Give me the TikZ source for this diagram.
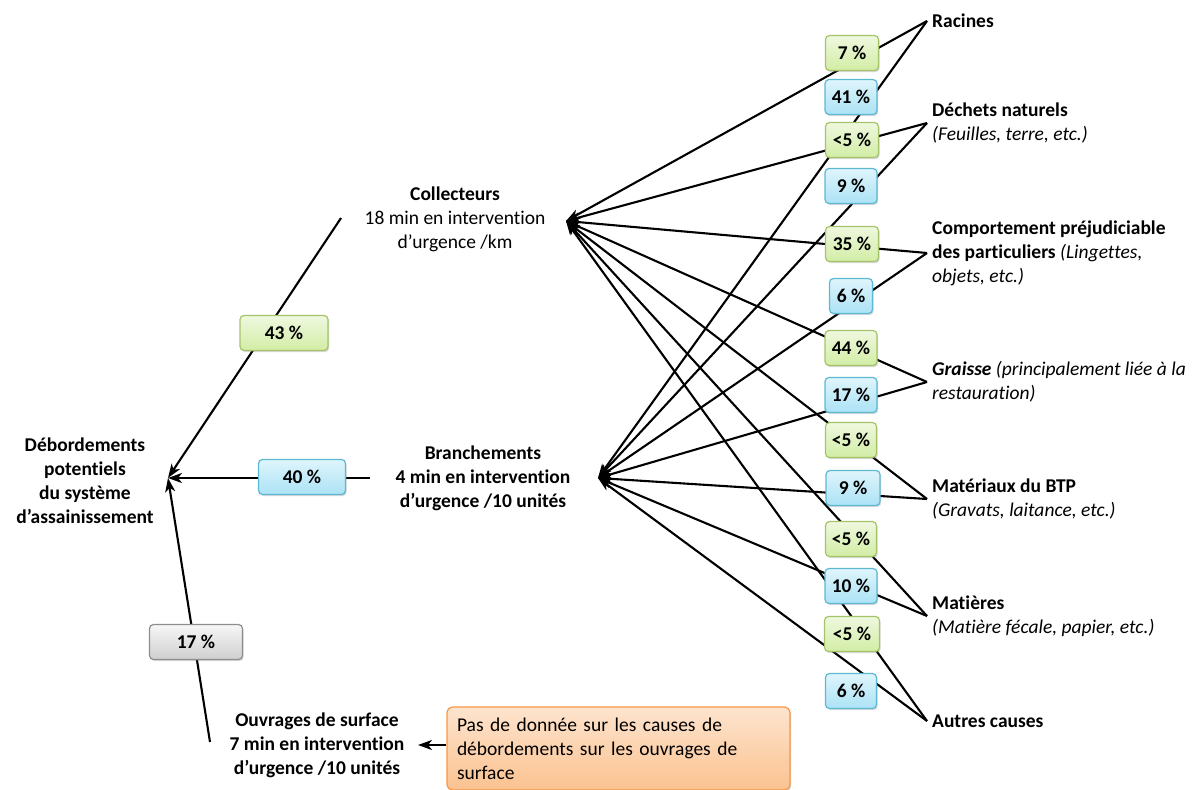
\documentclass[tikz,border=0pt]{standalone}
\usepackage{fontspec}
\setmainfont{Carlito}[Ligatures=NoCommon]
\usetikzlibrary{arrows.meta,shadows}
\definecolor{gBord}{HTML}{A5C46A}
\definecolor{gTop}{HTML}{EFF8DF}
\definecolor{gBot}{HTML}{D2EDA5}
\definecolor{bBord}{HTML}{5DB8D2}
\definecolor{bTop}{HTML}{DFF5FC}
\definecolor{bBot}{HTML}{ABE2F5}
\definecolor{kBord}{HTML}{8C8C8C}
\definecolor{kTop}{HTML}{F7F7F7}
\definecolor{kBot}{HTML}{CFCFCF}
\definecolor{oBord}{HTML}{F79646}
\definecolor{oTop}{HTML}{FDE4CE}
\definecolor{oBot}{HTML}{FBC290}
\pgfdeclarelayer{bg}
\pgfsetlayers{bg,main}
\begin{document}
\begin{tikzpicture}[x=1pt,y=-1pt,
  every node/.style={font=\fontsize{19.5}{24}\selectfont},
  arr/.style={line width=2.1pt,-{Stealth[length=14pt,width=10pt,inset=4pt]}},
  pbox/.style={rounded corners=4pt, line width=1.2pt, minimum height=35pt, inner xsep=5pt,
    font=\fontsize{19.5}{24}\selectfont\bfseries,
    drop shadow={shadow xshift=1.2pt,shadow yshift=-1.6pt,opacity=0.3}},
  gbox/.style={pbox, draw=gBord, top color=gTop, bottom color=gBot, minimum width=53pt},
  bbox/.style={pbox, draw=bBord, top color=bTop, bottom color=bBot, minimum width=52pt},
  kbox/.style={pbox, draw=kBord, top color=kTop, bottom color=kBot, minimum width=93pt},
  notebox/.style={rounded corners=6pt, line width=1.2pt, draw=oBord, top color=oTop, bottom color=oBot,
    minimum width=343pt, minimum height=83pt, text width=323pt, align=left,
    drop shadow={shadow xshift=1.2pt,shadow yshift=-1.6pt,opacity=0.3}},
  cause/.style={anchor=west, inner xsep=5pt, inner ysep=0pt, align=left},
  mid/.style={align=center, inner sep=2pt}
]
\useasboundingbox (0,0) rectangle (1200,790);

% main text nodes
\node[mid, font=\fontsize{19.5}{24}\selectfont\bfseries] (deb) at (85,481)
  {Débordements\\potentiels\\du système\\d’assainissement};
\node[mid] (coll) at (455,219) {\textbf{Collecteurs}\\18 min en intervention\\d’urgence /km};
\node[mid, font=\fontsize{19.5}{24}\selectfont\bfseries] (bran) at (483,478)
  {Branchements\\4 min en intervention\\d’urgence /10 unités};
\node[mid, font=\fontsize{19.5}{24}\selectfont\bfseries] (ouv) at (317,745)
  {Ouvrages de surface\\7 min en intervention\\d’urgence /10 unités};
\node[notebox] (note) at (618.5,748.5)
  {Pas de donnée sur les causes de\\débordements sur les ouvrages de\\surface};

% causes
\node[cause] (cR) at (927,21) {\textbf{Racines}};
\node[cause] (cD) at (927,123) {\textbf{Déchets naturels}\\\textit{(Feuilles, terre, etc.)}};
\node[cause] (cC) at (927,253) {\textbf{Comportement préjudiciable}\\\textbf{des particuliers} \textit{(Lingettes,}\\\textit{objets, etc.)}};
\node[cause] (cG) at (927,382) {\textbf{\textit{Graisse}} \textit{(principalement liée à la}\\\textit{restauration)}};
\node[cause] (cM) at (927,499) {\textbf{Matériaux du BTP}\\\textit{(Gravats, laitance, etc.)}};
\node[cause] (cF) at (927,616) {\textbf{Matières}\\\textit{(Matière fécale, papier, etc.)}};
\node[cause] (cA) at (927,721) {\textbf{Autres causes}};

% percentage boxes
\node[gbox] (g1) at (852,53) {7 \%};
\node[bbox] (b1) at (851,97) {41 \%};
\node[gbox] (g2) at (852,140) {<5 \%};
\node[bbox] (b2) at (851,186) {9 \%};
\node[gbox] (g3) at (852,244) {35 \%};
\node[bbox, minimum width=43pt] (b3) at (851,296) {6 \%};
\node[gbox, minimum width=52pt] (g4) at (851,348) {44 \%};
\node[bbox] (b4) at (851,395) {17 \%};
\node[gbox, minimum width=51pt] (g5) at (851,440) {<5 \%};
\node[bbox, minimum width=54pt] (b5) at (853,488) {9 \%};
\node[gbox, minimum width=51pt] (g6) at (851,539) {<5 \%};
\node[bbox] (b6) at (851,586) {10 \%};
\node[gbox, minimum width=55pt] (g7) at (852,634) {<5 \%};
\node[bbox, minimum width=51pt] (b7) at (851,691) {6 \%};

\node[gbox, minimum width=88pt] (l43) at (284,333) {43 \%};
\node[bbox, minimum width=87pt] (l40) at (302,477) {40 \%};
\node[kbox] (l17) at (196,642) {17 \%};

% connector end points
\coordinate (colT) at (566,221);
\coordinate (braT) at (598,478);
\coordinate (debT) at (168,478);
\coordinate (collS) at (341,218);
\coordinate (branS) at (370,478);
\coordinate (ouvS) at (210,742);
\coordinate (ouvT) at (418,745);

\begin{pgfonlayer}{bg}
  \foreach \c in {cR,cD,cC,cG,cM,cF,cA}{
    \draw[arr] (\c.west) -- (colT);
    \draw[arr] (\c.west) -- (braT);
  }
  \draw[arr] (collS) -- (debT);
  \draw[arr] (branS) -- (debT);
  \draw[arr] (ouvS) -- (debT);
\end{pgfonlayer}
\draw[arr] (note.west |- ouvT) -- (ouvT);
\end{tikzpicture}
\end{document}
